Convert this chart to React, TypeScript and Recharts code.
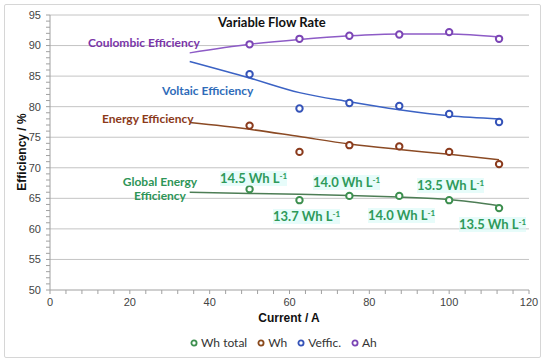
import React from 'react';
import {
  ComposedChart,
  Line,
  XAxis,
  YAxis,
  CartesianGrid,
} from 'recharts';

// measured points
const CURRENT = [50, 62.5, 75, 87.5, 100, 112.5];
const WH_TOTAL = [66.5, 64.7, 65.4, 65.4, 64.7, 63.4];
const WH = [76.9, 72.6, 73.7, 73.5, 72.6, 70.6];
const VEFFIC = [85.3, 79.7, 80.6, 80.1, 78.8, 77.5];
const AH = [90.2, 91.1, 91.6, 91.8, 92.2, 91.1];

// trendlines
const TREND_CURRENT = [35, 50, 62.5, 75, 87.5, 100, 112.5];
const WH_TOTAL_TREND = [66.0, 65.8, 65.65, 65.45, 65.2, 64.8, 63.8];
const WH_TREND = [77.4, 76.3, 75.1, 73.9, 73.0, 72.2, 71.3];
const VEFFIC_TREND = [87.4, 84.7, 82.3, 80.8, 79.5, 78.5, 78.0];
const AH_TREND = [88.8, 90.2, 91.0, 91.6, 91.9, 91.9, 91.4];

const X_LABELS = [0, 20, 40, 60, 80, 100, 120];
const Y_LABELS = [50, 55, 60, 65, 70, 75, 80, 85, 90, 95];
const X_TICKS = Array.from({ length: 31 }, (_, i) => i * 4);
const Y_TICKS = Array.from({ length: 46 }, (_, i) => 50 + i);

const LEGEND = [
  { name: 'Wh total', color: '#3d8f4f' },
  { name: 'Wh', color: '#8a4a1c' },
  { name: 'Veffic.', color: '#3553b8' },
  { name: 'Ah', color: '#7b45b5' },
];

const ANNOTATIONS = [
  { text: '14.5 Wh L', left: 220, top: 171 },
  { text: '13.7 Wh L', left: 273, top: 209 },
  { text: '14.0 Wh L', left: 313, top: 175 },
  { text: '14.0 Wh L', left: 368, top: 208 },
  { text: '13.5 Wh L', left: 417, top: 178 },
  { text: '13.5 Wh L', left: 459, top: 217 },
];

const data = TREND_CURRENT.map((c, i) => {
  const k = CURRENT.indexOf(c);
  return {
    current: c,
    whTotalFit: WH_TOTAL_TREND[i],
    whFit: WH_TREND[i],
    vefficFit: VEFFIC_TREND[i],
    ahFit: AH_TREND[i],
    whTotal: k >= 0 ? WH_TOTAL[k] : null,
    wh: k >= 0 ? WH[k] : null,
    veffic: k >= 0 ? VEFFIC[k] : null,
    ah: k >= 0 ? AH[k] : null,
  };
});

const LABEL_FONT = 'Lato, "Open Sans", sans-serif';
const TICK_FONT = '"Liberation Sans", Arial, sans-serif';

const dotStyle = (color: string) => ({ r: 3.2, stroke: color, strokeWidth: 2, fill: '#fff' });

const labelStyle = (color: string, left: number, top: number): React.CSSProperties => ({
  position: 'absolute',
  left,
  top,
  color,
  fontFamily: LABEL_FONT,
  fontWeight: 700,
  fontSize: 12,
  whiteSpace: 'nowrap',
  lineHeight: '14px',
});

export default function App() {
  return (
    <div style={{ position: 'absolute', left: 0, top: 0, width: 550, height: 363, background: '#fff' }}>
      <div
        style={{
          position: 'absolute',
          left: 4,
          top: 4,
          width: 535,
          height: 352,
          border: '1px solid #d6d6d6',
          borderRadius: 2,
        }}
      />
      <ComposedChart width={550} height={363} data={data} margin={{ top: 15, right: 21, left: 0, bottom: 0 }}>
        <CartesianGrid vertical={false} horizontalValues={Y_LABELS.slice(1)} stroke="#c4c4c4" />
        <XAxis
          dataKey="current"
          type="number"
          domain={[0, 120]}
          ticks={X_TICKS}
          interval={0}
          height={73}
          tickSize={4}
          tickMargin={4}
          stroke="#a0a0a0"
          tick={{ fill: '#444', fontSize: 11, fontFamily: TICK_FONT }}
          tickFormatter={(v: number) => (X_LABELS.includes(v) ? String(v) : '')}
        />
        <YAxis
          type="number"
          domain={[50, 95]}
          ticks={Y_TICKS}
          interval={0}
          width={50}
          tickSize={4}
          tickMargin={5}
          stroke="#a0a0a0"
          tick={{ fill: '#444', fontSize: 11, fontFamily: TICK_FONT }}
          tickFormatter={(v: number) => (Y_LABELS.includes(v) ? String(v) : '')}
        />
        <Line type="monotone" dataKey="ahFit" stroke="#8d5bc6" strokeWidth={1.5} dot={false} activeDot={false} isAnimationActive={false} />
        <Line type="monotone" dataKey="vefficFit" stroke="#3b62c4" strokeWidth={1.5} dot={false} activeDot={false} isAnimationActive={false} />
        <Line type="monotone" dataKey="whFit" stroke="#8b4a24" strokeWidth={1.5} dot={false} activeDot={false} isAnimationActive={false} />
        <Line type="monotone" dataKey="whTotalFit" stroke="#4d7d55" strokeWidth={1.5} dot={false} activeDot={false} isAnimationActive={false} />
        <Line dataKey="ah" stroke="none" dot={dotStyle('#7b45b5')} activeDot={false} isAnimationActive={false} />
        <Line dataKey="veffic" stroke="none" dot={dotStyle('#3553b8')} activeDot={false} isAnimationActive={false} />
        <Line dataKey="wh" stroke="none" dot={dotStyle('#8a3a1c')} activeDot={false} isAnimationActive={false} />
        <Line dataKey="whTotal" stroke="none" dot={dotStyle('#3d8f4f')} activeDot={false} isAnimationActive={false} />
      </ComposedChart>

      <div
        style={{
          position: 'absolute',
          left: 190,
          top: 335,
          display: 'flex',
          alignItems: 'center',
          fontFamily: LABEL_FONT,
          fontSize: 12,
          color: '#333',
        }}
      >
        {LEGEND.map((l) => (
          <div key={l.name} style={{ display: 'flex', alignItems: 'center', marginRight: 10 }}>
            <svg width={8} height={8} style={{ marginRight: 3 }}>
              <circle cx={4} cy={4} r={2.6} fill="#fff" stroke={l.color} strokeWidth={1.8} />
            </svg>
            <span>{l.name}</span>
          </div>
        ))}
      </div>

      <div style={{ ...labelStyle('#111', 218, 15), fontSize: 13 }}>Variable Flow Rate</div>
      <div style={labelStyle('#7a35a8', 88, 36)}>Coulombic Efficiency</div>
      <div style={labelStyle('#2f6cb9', 162, 84)}>Voltaic Efficiency</div>
      <div style={labelStyle('#8b3a1a', 102, 112)}>Energy Efficiency</div>
      <div style={{ ...labelStyle('#2e9557', 122, 175), textAlign: 'center', width: 76 }}>
        Global Energy
        <br />
        Efficiency
      </div>
      {ANNOTATIONS.map((a, i) => (
        <div
          key={i}
          style={{ ...labelStyle('#2e9a5a', a.left, a.top), fontSize: 13, lineHeight: '15px', background: 'rgba(215,250,246,0.6)' }}
        >
          {a.text}
          <span style={{ fontSize: 8, lineHeight: 0, verticalAlign: '0.55em' }}>-1</span>
        </div>
      ))}

      <div
        style={{
          position: 'absolute',
          left: 22,
          top: 152,
          transform: 'translate(-50%, -50%) rotate(-90deg)',
          fontFamily: TICK_FONT,
          fontWeight: 700,
          fontSize: 12,
          color: '#111',
          whiteSpace: 'nowrap',
        }}
      >
        Efficiency / %
      </div>
      <div
        style={{
          position: 'absolute',
          left: 289,
          top: 318,
          transform: 'translate(-50%, -50%)',
          fontFamily: TICK_FONT,
          fontWeight: 700,
          fontSize: 12,
          color: '#111',
          whiteSpace: 'nowrap',
        }}
      >
        Current / A
      </div>
    </div>
  );
}
